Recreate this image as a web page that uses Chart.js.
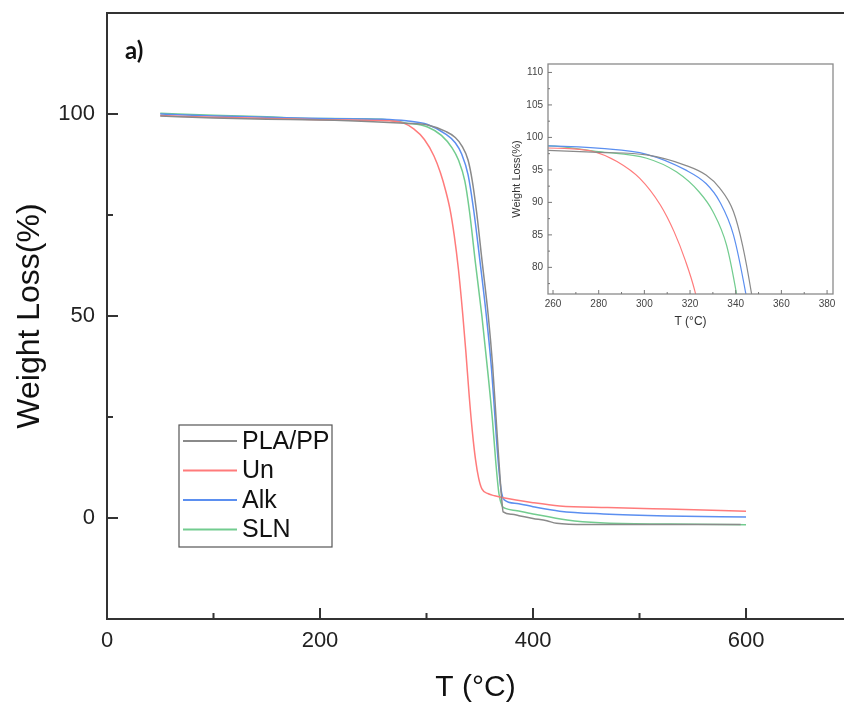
<!DOCTYPE html>
<html>
<head>
<meta charset="utf-8">
<script src="https://cdn.jsdelivr.net/npm/chart.js@4.4.1/dist/chart.umd.min.js"></script>
<style>
  html, body { margin: 0; padding: 0; background: #fff; overflow: hidden; }
  #wrap { position: relative; width: 844px; height: 703px; }
  #main { position: absolute; left: 0; top: 0; }
  #inset { position: absolute; left: 500px; top: 55px; }
</style>
</head>
<body>
<div id="wrap">
  <canvas id="main" width="844" height="703"></canvas>
  <canvas id="inset" width="340" height="290"></canvas>
</div>
<script>
var seriesNames = ["PLA/PP", "Un", "Alk", "SLN"];
var seriesColors = ["#8a8a8a", "#ff7b7b", "#5b8ff0", "#72cc8f"];

// temperature (°C) / weight (%)
var tempPLA = [50, 100, 150, 200, 250, 280, 301, 318, 327, 333, 339, 343, 347, 352, 358, 362, 365, 368, 370.5, 372, 380, 388, 400, 413, 422, 450, 500, 595];
var wtPLA   = [99.5, 99.0, 98.7, 98.5, 98.1, 97.7, 97.3, 95.7, 94.2, 92.2, 88.6, 83.4, 75.8, 64, 50, 38, 26, 14, 5, 1.5, 0.9, 0.5, -0.1, -0.7, -1.3, -1.6, -1.6, -1.6];

var tempUn = [50, 100, 150, 200, 250, 265, 278, 288, 298, 307, 313, 318, 322, 326, 330, 334, 337, 340, 343, 346, 349, 352, 358, 364, 372, 400, 425, 470, 526, 600];
var wtUn   = [99.6, 99.2, 98.9, 98.6, 98.4, 98.3, 97.8, 96.3, 93.7, 89.6, 85.5, 81, 76.5, 70, 61.5, 50.5, 41, 30.5, 21.5, 14.5, 9.8, 7.2, 6, 5.5, 5.0, 3.8, 3.0, 2.6, 2.2, 1.7];

var tempAlk = [50, 100, 150, 200, 258, 281, 301, 318, 327, 333, 339, 344.5, 350, 356, 361, 364, 367, 370, 373, 385, 400, 425, 466, 526, 600];
var wtAlk   = [100.0, 99.5, 99.2, 98.9, 98.7, 98.3, 97.4, 95.0, 92.9, 90.1, 85.0, 75.8, 64, 50.5, 37, 26, 15, 7, 4.5, 3.6, 2.8, 1.7, 1.0, 0.5, 0.25];

var tempSLN = [50, 100, 150, 190, 258, 280, 301, 314, 324, 330, 336, 340.4, 346, 352, 358, 362, 365, 368, 371, 374, 385, 400, 432, 463, 530, 600];
var wtSLN   = [100.2, 99.7, 99.3, 98.9, 98.7, 97.8, 96.8, 94.7, 91.6, 88.6, 83.4, 75.8, 63, 50, 35, 24, 14, 6, 3, 2.4, 1.8, 1.0, -0.5, -1.2, -1.5, -1.7];

// axis ticks
var mainXMajor = [0, 200, 400, 600];
var mainXMinor = [100, 300, 500];
var mainYMajor = [0, 50, 100];
var mainYMinor = [25, 75];
var insetXMajor = [260, 280, 300, 320, 340, 360, 380];
var insetXMinor = [270, 290, 310, 330, 350, 370];
var insetYMajor = [80, 85, 90, 95, 100, 105, 110];
var insetYMinor = [77.5, 82.5, 87.5, 92.5, 97.5, 102.5, 107.5];

var seriesT = [tempPLA, tempUn, tempAlk, tempSLN];
var seriesW = [wtPLA, wtUn, wtAlk, wtSLN];

Chart.defaults.font.family = "'Liberation Sans', Arial, sans-serif";
Chart.defaults.color = "#222";

function makeSets(lw) {
  return seriesNames.map(function (name, i) {
    return {
      label: name,
      data: seriesT[i].map(function (t, j) { return { x: t, y: seriesW[i][j] }; }),
      borderColor: seriesColors[i],
      backgroundColor: seriesColors[i],
      borderWidth: lw,
      pointRadius: 0,
      fill: false,
      cubicInterpolationMode: 'monotone'
    };
  });
}

function setTicks(values) {
  return function (scale) {
    scale.ticks = values.map(function (v) { return { value: v }; });
  };
}

// fixed axis box size, no label overflow padding
function fitX(h) {
  return function (s) { s.height = h; s.paddingLeft = 0; s.paddingRight = 0; };
}
function fitY(w) {
  return function (s) { s.width = w; s.paddingTop = 0; s.paddingBottom = 0; };
}

function drawTicks(ctx, chart, xs, ys, opt) {
  var a = chart.chartArea;
  ctx.beginPath();
  xs.major.forEach(function (v) {
    var p = chart.scales.x.getPixelForValue(v);
    ctx.moveTo(p, a.bottom); ctx.lineTo(p, a.bottom - opt.major);
  });
  xs.minor.forEach(function (v) {
    var p = chart.scales.x.getPixelForValue(v);
    ctx.moveTo(p, a.bottom); ctx.lineTo(p, a.bottom - opt.minor);
  });
  ys.major.forEach(function (v) {
    var p = chart.scales.y.getPixelForValue(v);
    ctx.moveTo(a.left, p); ctx.lineTo(a.left + opt.major, p);
  });
  ys.minor.forEach(function (v) {
    var p = chart.scales.y.getPixelForValue(v);
    ctx.moveTo(a.left, p); ctx.lineTo(a.left + opt.minor, p);
  });
  ctx.stroke();
}

var mainDecor = {
  id: 'mainDecor',
  afterDraw: function (chart) {
    var ctx = chart.ctx, a = chart.chartArea;
    ctx.save();
    ctx.strokeStyle = '#333';
    ctx.lineWidth = 2;
    ctx.beginPath();
    ctx.moveTo(a.left - 1, a.top); ctx.lineTo(a.right, a.top);
    ctx.stroke();
    drawTicks(ctx, chart, { major: mainXMajor, minor: mainXMinor }, { major: mainYMajor, minor: mainYMinor }, { major: 11, minor: 6 });

    // panel label
    ctx.fillStyle = '#111';
    ctx.font = "bold 24px Lato, 'Liberation Sans', sans-serif";
    ctx.textBaseline = 'middle';
    ctx.fillText('a)', a.left + 18, a.top + 38);

    // legend
    var bx = a.left + 72, by = 425, bw = 153, bh = 122;
    ctx.lineWidth = 1.2;
    ctx.strokeStyle = '#555';
    ctx.strokeRect(bx, by, bw, bh);
    ctx.font = "25px 'Liberation Sans', Arial, sans-serif";
    chart.data.datasets.forEach(function (ds, i) {
      var y = by + 16 + i * 29.5;
      ctx.strokeStyle = ds.borderColor;
      ctx.lineWidth = 1.8;
      ctx.beginPath();
      ctx.moveTo(bx + 4, y); ctx.lineTo(bx + 58, y);
      ctx.stroke();
      ctx.fillStyle = '#111';
      ctx.fillText(ds.label, bx + 63, y + 1);
    });
    ctx.restore();
  }
};

new Chart(document.getElementById('main'), {
  type: 'line',
  data: { datasets: makeSets(1.5) },
  options: {
    responsive: false,
    animation: false,
    layout: { padding: { top: 13, right: 0, left: 0, bottom: 0 } },
    plugins: { legend: { display: false }, tooltip: { enabled: false } },
    scales: {
      x: {
        type: 'linear',
        min: 0,
        max: 692,
        afterBuildTicks: setTicks(mainXMajor),
        afterFit: fitX(84),
        grid: { display: false, drawTicks: false },
        border: { display: true, color: '#333', width: 2 },
        ticks: { font: { size: 22 }, padding: 9, color: '#222', maxRotation: 0 },
        title: { display: true, text: 'T (°C)', font: { size: 30, lineHeight: 1 }, padding: { top: 0, bottom: 0 }, color: '#111' }
      },
      y: {
        type: 'linear',
        min: -25,
        max: 125,
        afterBuildTicks: setTicks(mainYMajor),
        afterFit: fitY(107),
        grid: { display: false, drawTicks: false },
        border: { display: true, color: '#333', width: 2 },
        ticks: { font: { size: 22 }, padding: 12, color: '#222' },
        title: { display: true, text: 'Weight Loss(%)', font: { size: 32, lineHeight: 1 }, padding: { top: 14, bottom: 0 }, color: '#111' }
      }
    }
  },
  plugins: [mainDecor]
});

var insetDecor = {
  id: 'insetDecor',
  afterDraw: function (chart) {
    var ctx = chart.ctx, a = chart.chartArea;
    ctx.save();
    ctx.strokeStyle = '#8a8a8a';
    ctx.lineWidth = 1.3;
    ctx.strokeRect(a.left, a.top, a.right - a.left, a.bottom - a.top);
    ctx.strokeStyle = '#777';
    ctx.lineWidth = 1;
    drawTicks(ctx, chart, { major: insetXMajor, minor: insetXMinor }, { major: insetYMajor, minor: insetYMinor }, { major: 4, minor: 2 });
    ctx.restore();
  }
};

new Chart(document.getElementById('inset'), {
  type: 'line',
  data: { datasets: makeSets(1.2) },
  options: {
    responsive: false,
    animation: false,
    layout: { padding: { top: 9, right: 7, left: 0, bottom: 0 } },
    plugins: { legend: { display: false }, tooltip: { enabled: false } },
    scales: {
      x: {
        type: 'linear',
        min: 257.8,
        max: 382.6,
        afterBuildTicks: setTicks(insetXMajor),
        afterFit: fitX(51),
        grid: { display: false, drawTicks: false },
        border: { display: false },
        ticks: { font: { size: 10 }, padding: 4, color: '#444', maxRotation: 0 },
        title: { display: true, text: 'T (°C)', font: { size: 12, lineHeight: 1 }, padding: { top: 0, bottom: 17 }, color: '#333' }
      },
      y: {
        type: 'linear',
        min: 75.9,
        max: 111.3,
        afterBuildTicks: setTicks(insetYMajor),
        afterFit: fitY(48),
        grid: { display: false, drawTicks: false },
        border: { display: false },
        ticks: { font: { size: 10 }, padding: 5, color: '#444' },
        title: { display: true, text: 'Weight Loss(%)', font: { size: 11, lineHeight: 1 }, padding: { top: 11, bottom: 0 }, color: '#333' }
      }
    }
  },
  plugins: [insetDecor]
});
</script>
</body>
</html>
